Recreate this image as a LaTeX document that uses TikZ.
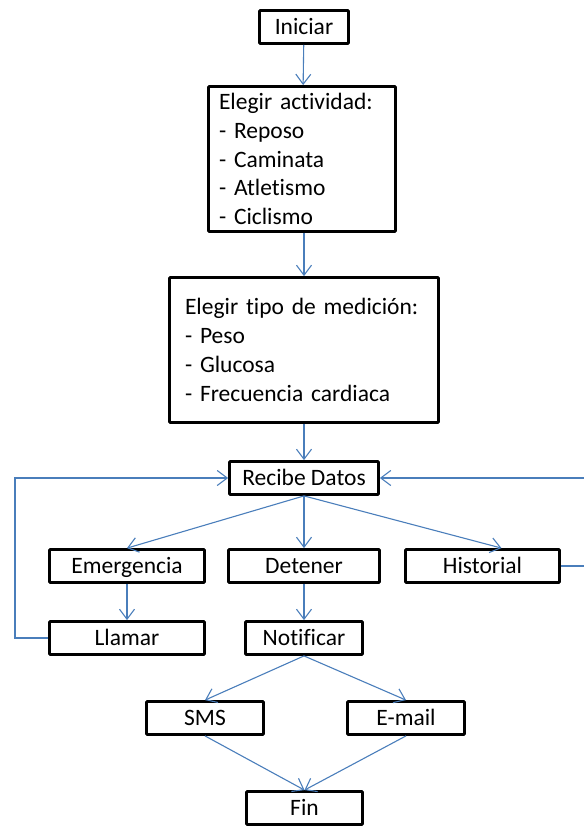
\documentclass[tikz,border=0pt]{standalone}
\usepackage{fontspec}
\setmainfont[Ligatures=NoCommon]{Carlito}
\usetikzlibrary{arrows.meta}
\definecolor{conn}{HTML}{4A7EBB}
\begin{document}
\begin{tikzpicture}[x=1bp,y=-1bp,
  basebox/.style={draw=black, line width=2.8bp, inner sep=0pt, rounded corners=0.8bp,
    font=\fontsize{23.5bp}{28.8bp}\selectfont},
  box/.style={basebox, minimum height=33bp, text height=20bp, text depth=5bp},
  listbox/.style={basebox, align=left},
  arr/.style={draw=conn, line width=1.1bp, -{Straight Barb[length=10bp,width=15bp,line width=1.1bp]}}]
\useasboundingbox (0,0) rectangle (584,827);
\node[box, minimum width=89bp] (ini) at (304,27) {Iniciar};
\node[listbox, minimum width=187bp, minimum height=145bp, text width=166bp, inner xsep=10.5bp] (act) at (302,159)
  {Elegir actividad:\\- Reposo\\- Caminata\\- Atletismo\\- Ciclismo};
\node[listbox, minimum width=269bp, minimum height=145bp, text width=238bp, inner xsep=15.5bp] (med) at (304,350)
  {Elegir tipo de medición:\\- Peso\\- Glucosa\\- Frecuencia cardiaca};
\node[box, minimum width=149bp] (rd) at (304,478) {Recibe Datos};
\node[box, minimum width=155bp] (em) at (127,566) {Emergencia};
\node[box, minimum width=151bp] (det) at (304,566) {Detener};
\node[box, minimum width=154bp] (hist) at (482.5,566) {Historial};
\node[box, minimum width=155bp] (ll) at (127,638) {Llamar};
\node[box, minimum width=117bp] (not) at (304,638) {Notificar};
\node[box, minimum width=117bp] (sms) at (205,718) {SMS};
\node[box, minimum width=117bp] (mail) at (406,718) {E-mail};
\node[box, minimum width=116bp] (fin) at (304.5,808) {Fin};
\coordinate (lloop) at (15,638);
\coordinate (hloop) at (592,566);
\draw[arr] (ini) -- (act);
\draw[arr] (act.south -| ini) -- (med.north -| ini);
\draw[arr] (med) -- (rd);
\draw[arr] (rd.south) -- (em.north);
\draw[arr] (rd.south) -- (det.north);
\draw[arr] (rd.south) -- ([xshift=19bp]hist.north);
\draw[arr] (em) -- (ll);
\draw[arr] (det) -- (not);
\draw[arr] (ll.west) -- (lloop) |- (rd.west);
\draw[arr] (hist.east) -- (hloop) |- (rd.east);
\draw[arr] (not.south) -- (sms.north);
\draw[arr] (not.south) -- (mail.north);
\draw[arr] (sms.south) -- (fin.north);
\draw[arr] (mail.south) -- (fin.north);
\end{tikzpicture}
\end{document}
